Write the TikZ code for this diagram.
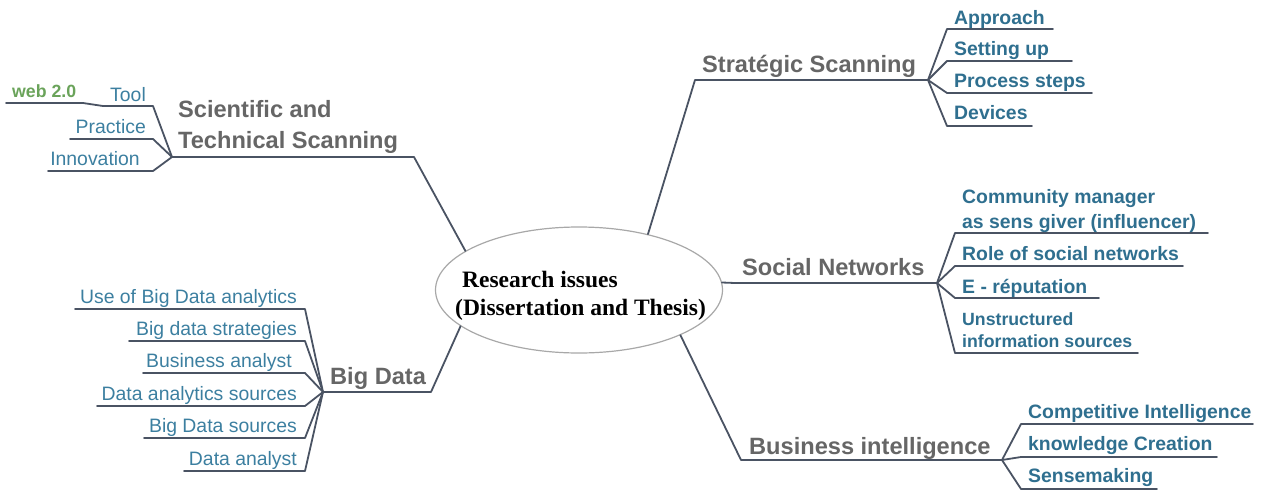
\documentclass[tikz,border=0pt]{standalone}
\usepackage{fontspec}
\setmainfont{Liberation Sans}
\newfontfamily\rootserif{Liberation Serif}
\usetikzlibrary{shapes.geometric}

\definecolor{branchline}{HTML}{4A5363}
\definecolor{topicgray}{HTML}{666666}
\definecolor{subteal}{HTML}{2F6F8F}
\definecolor{leafblue}{HTML}{3C7FA0}
\definecolor{webgreen}{HTML}{6AA35A}
\definecolor{ellgray}{HTML}{A8A8A8}

% two-line label whose baseline is the baseline of its last line
\newcommand{\twoline}[2]{\begin{tabular}[b]{@{}l@{}}#1\\#2\end{tabular}}

\begin{document}
\begin{tikzpicture}[x=1pt,y=-1pt,
  topic/.style={font=\fontsize{23.6}{31}\selectfont\bfseries, text=topicgray, inner sep=0pt, anchor=base west},
  subtopic/.style={font=\fontsize{19.4}{25}\selectfont\bfseries, text=subteal, inner sep=0pt, anchor=base west},
  smallsub/.style={font=\fontsize{17.7}{22}\selectfont\bfseries, text=subteal, inner sep=0pt, anchor=base west},
  leaf/.style={font=\fontsize{19.4}{25}\selectfont, text=leafblue, inner sep=0pt, anchor=base east},
  weblabel/.style={font=\fontsize{17.7}{22}\selectfont\bfseries, text=webgreen, inner sep=0pt, anchor=base west},
  branch/.style={draw=branchline, line width=1.8pt, line join=round, line cap=round},
  rootshape/.style={ellipse, draw=ellgray, fill=white, line width=1.2pt, minimum width=287pt, minimum height=126pt, inner sep=0pt},
  roottext/.style={font=\rootserif\fontsize{23.5}{28}\selectfont\bfseries, text=black, inner sep=0pt, anchor=base west}
]
\useasboundingbox (0,0) rectangle (1262,493);

% ---------- joints of the branches ----------
\coordinate (sci-in) at (414,157);   \coordinate (sci-fork) at (172,157);
\coordinate (tool-r) at (153,106);   \coordinate (tool-l) at (103,106);
\coordinate (web-r)  at (83,103);    \coordinate (web-l)  at (6,103);
\coordinate (prac-r) at (153,139);   \coordinate (prac-l) at (70,139);
\coordinate (inno-r) at (153,171);   \coordinate (inno-l) at (48,171);

\coordinate (str-in) at (695,80);    \coordinate (str-fork) at (928,80);
\coordinate (appr-l) at (947,29);    \coordinate (appr-r) at (1053,29);
\coordinate (setu-l) at (947,61);    \coordinate (setu-r) at (1072,61);
\coordinate (proc-l) at (947,93);    \coordinate (proc-r) at (1092,93);
\coordinate (devi-l) at (947,126);   \coordinate (devi-r) at (1032,126);

\coordinate (soc-in) at (735,283);   \coordinate (soc-fork) at (937,283);
\coordinate (comm-l) at (955,233);   \coordinate (comm-r) at (1208,233);
\coordinate (role-l) at (955,266);   \coordinate (role-r) at (1183,266);
\coordinate (erep-l) at (955,298);   \coordinate (erep-r) at (1099,298);
\coordinate (unst-l) at (955,353);   \coordinate (unst-r) at (1138,353);

\coordinate (bi-in) at (741,460);    \coordinate (bi-fork) at (1002,460);
\coordinate (ci-l) at (1021,424);    \coordinate (ci-r) at (1253,424);
\coordinate (kc-l) at (1021,457);    \coordinate (kc-r) at (1217,457);
\coordinate (sm-l) at (1021,489);    \coordinate (sm-r) at (1157,489);

\coordinate (bd-in) at (431,392);    \coordinate (bd-fork) at (323,392);
\coordinate (bd1-r) at (305,309);    \coordinate (bd1-l) at (75,309);
\coordinate (bd2-r) at (305,341);    \coordinate (bd2-l) at (129,341);
\coordinate (bd3-r) at (305,373);    \coordinate (bd3-l) at (143,373);
\coordinate (bd4-r) at (305,406);    \coordinate (bd4-l) at (97,406);
\coordinate (bd5-r) at (305,438);    \coordinate (bd5-l) at (144,438);
\coordinate (bd6-r) at (305,471);    \coordinate (bd6-l) at (184,471);

% ---------- central topic ----------
\node[rootshape] (root) at (579,290) {};

% ---------- connectors ----------
\draw[branch] (root.161) -- (sci-in) -- (sci-fork);
\draw[branch] (sci-fork) -- (tool-r) -- (tool-l) -- (web-r) -- (web-l);
\draw[branch] (sci-fork) -- (prac-r) -- (prac-l);
\draw[branch] (sci-fork) -- (inno-r) -- (inno-l);

\draw[branch] (root.39) -- (str-in) -- (str-fork);
\draw[branch] (str-fork) -- (appr-l) -- (appr-r);
\draw[branch] (str-fork) -- (setu-l) -- (setu-r);
\draw[branch] (str-fork) -- (proc-l) -- (proc-r);
\draw[branch] (str-fork) -- (devi-l) -- (devi-r);

\draw[branch] (root.3) -- (soc-in) -- (soc-fork);
\draw[branch] (soc-fork) -- (comm-l) -- (comm-r);
\draw[branch] (soc-fork) -- (role-l) -- (role-r);
\draw[branch] (soc-fork) -- (erep-l) -- (erep-r);
\draw[branch] (soc-fork) -- (unst-l) -- (unst-r);

\draw[branch] (root.-24) -- (bi-in) -- (bi-fork);
\draw[branch] (bi-fork) -- (ci-l) -- (ci-r);
\draw[branch] (bi-fork) -- (kc-l) -- (kc-r);
\draw[branch] (bi-fork) -- (sm-l) -- (sm-r);

\draw[branch] (root.197) -- (bd-in) -- (bd-fork);
\draw[branch] (bd-fork) -- (bd1-r) -- (bd1-l);
\draw[branch] (bd-fork) -- (bd2-r) -- (bd2-l);
\draw[branch] (bd-fork) -- (bd3-r) -- (bd3-l);
\draw[branch] (bd-fork) -- (bd4-r) -- (bd4-l);
\draw[branch] (bd-fork) -- (bd5-r) -- (bd5-l);
\draw[branch] (bd-fork) -- (bd6-r) -- (bd6-l);

% ---------- labels ----------
\node[roottext] (rootlabel) at (455,315) {\twoline{\hspace{7pt}Research issues}{(Dissertation and Thesis)}};

\node[topic] (sci) at (178,148) {\twoline{Scientific and}{Technical Scanning}};
\node[leaf] (tool) at (146,101) {Tool};
\node[weblabel] (web) at (12,97) {web 2.0};
\node[leaf] (prac) at (146,133) {Practice};
\node[leaf] (inno) at (140,165) {Innovation};

\node[topic] (str) at (702,72) {Stratégic Scanning};
\node[subtopic] (appr) at (954,24) {Approach};
\node[subtopic] (setu) at (954,55) {Setting up};
\node[subtopic] (proc) at (954,87) {Process steps};
\node[subtopic] (devi) at (954,119) {Devices};

\node[topic] (soc) at (742,275) {Social Networks};
\node[subtopic] (comm) at (962,228) {\twoline{Community manager}{as sens giver (influencer)}};
\node[subtopic] (role) at (962,260) {Role of social networks};
\node[subtopic] (erep) at (962,293) {E - réputation};
\node[smallsub] (unst) at (962,347) {\twoline{Unstructured}{information sources}};

\node[topic] (bi) at (749,454) {Business intelligence};
\node[subtopic] (ci) at (1028,418) {Competitive Intelligence};
\node[subtopic] (kc) at (1028,450) {knowledge Creation};
\node[subtopic] (sm) at (1028,482) {Sensemaking};

\node[topic] (bd) at (330,384) {Big Data};
\node[leaf] (bd1) at (297,303) {Use of Big Data analytics};
\node[leaf] (bd2) at (297,335) {Big data strategies};
\node[leaf] (bd3) at (292,367) {Business analyst};
\node[leaf] (bd4) at (297,400) {Data analytics sources};
\node[leaf] (bd5) at (297,432) {Big Data sources};
\node[leaf] (bd6) at (297,465) {Data analyst};
\end{tikzpicture}
\end{document}
